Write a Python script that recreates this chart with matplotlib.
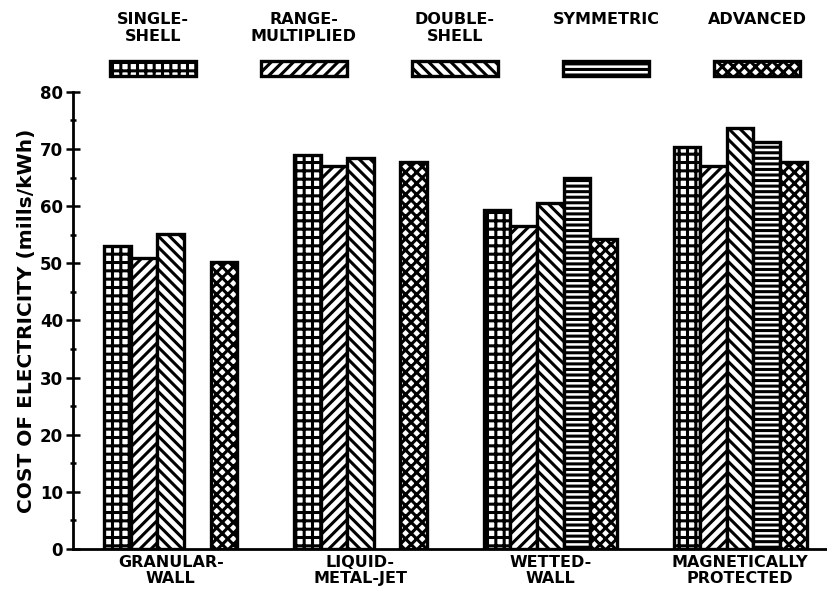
import numpy as np
import matplotlib.pyplot as plt
from matplotlib.patches import Rectangle
from matplotlib.ticker import MultipleLocator

# cost of electricity per concept (mills/kWh), nan = no bar
groups = ['GRANULAR-\nWALL', 'LIQUID-\nMETAL-JET', 'WETTED-\nWALL', 'MAGNETICALLY\nPROTECTED']
series_names = ['SINGLE-\nSHELL', 'RANGE-\nMULTIPLIED', 'DOUBLE-\nSHELL', 'SYMMETRIC', 'ADVANCED']
single_shell = [53.1, 68.9, 59.4, 70.3]
range_mult = [50.9, 67.0, 56.6, 67.0]
double_shell = [55.2, 68.5, 60.5, 73.6]
symmetric = [np.nan, np.nan, 64.9, 71.3]
advanced = [50.2, 67.7, 54.2, 67.8]

hatches = ['++', '///', '\\\\\\', '---', 'xxx']

plt.rcParams['font.family'] = ['DejaVu Sans']
plt.rcParams['font.weight'] = 'bold'
plt.rcParams['hatch.linewidth'] = 2.2
plt.rcParams['hatch.color'] = 'black'

fig = plt.figure(figsize=(8.27, 6.0), dpi=100)
ax = fig.add_axes([0.088, 0.085, 0.912, 0.762])

data = [single_shell, range_mult, double_shell, symmetric, advanced]
x = np.arange(len(groups))
w = 0.14
for i, vals in enumerate(data):
    ax.bar(x + (i - 2) * w, vals, w, color='white', edgecolor='black',
           linewidth=2.4, hatch=hatches[i])

ax.set_xlim(-0.516, 3.458)
ax.set_ylim(0, 80)
ax.set_xticks(x)
ax.set_xticklabels(groups, fontsize=11.5, fontweight='bold', linespacing=1.15)
ax.tick_params(axis='x', length=0, pad=4)
ax.yaxis.set_major_locator(MultipleLocator(10))
ax.yaxis.set_minor_locator(MultipleLocator(5))
ax.tick_params(axis='y', which='major', direction='inout', length=10, width=1.8, labelsize=12, pad=2)
ax.tick_params(axis='y', which='minor', direction='inout', length=5, width=1.8)
for lab in ax.get_yticklabels():
    lab.set_fontweight('bold')
ax.spines['top'].set_visible(False)
ax.spines['right'].set_visible(False)
ax.spines['left'].set_linewidth(2)
ax.spines['bottom'].set_linewidth(2)
ax.set_ylabel('COST OF ELECTRICITY (mills/kWh)', fontsize=14.5, fontweight='bold', labelpad=3)

# legend along the top: label above a hatched swatch
centers = [153, 304, 455, 606, 757]
for c, name, h in zip(centers, series_names, hatches):
    fig.add_artist(Rectangle(((c - 43) / 827, 1 - 76 / 600), 86 / 827, 15 / 600,
                             transform=fig.transFigure, facecolor='white',
                             edgecolor='black', linewidth=2.4, hatch=h))
    fig.text(c / 827, 1 - 12 / 600, name, ha='center', va='top', fontsize=11.5,
             fontweight='bold', linespacing=1.15)

fig.savefig('out.png', dpi=100)
